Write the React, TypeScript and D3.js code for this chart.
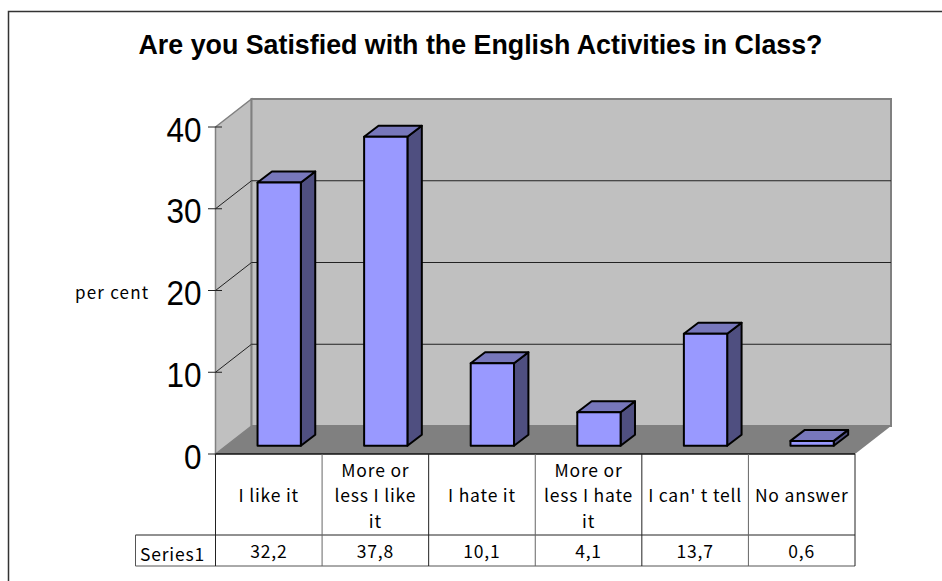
import React from "react";
import * as d3 from "d3";

const title = "Are you Satisfied with the English Activities in Class?";
const categories: string[][] = [
  ["I like it"],
  ["More or", "less I like", "it"],
  ["I hate it"],
  ["More or", "less I hate", "it"],
  ["I can' t tell"],
  ["No answer"],
];
const seriesName = "Series1";
const values = [32.2, 37.8, 10.1, 4.1, 13.7, 0.6];
const valueLabels = ["32,2", "37,8", "10,1", "4,1", "13,7", "0,6"];
const yTicks = [0, 10, 20, 30, 40];
const yTitle = "per cent";

const FONT = "'Noto Sans CJK JP','DejaVu Sans',sans-serif";
const SANS = "'Liberation Sans',Arial,sans-serif";

export default function App() {
  const left = 215.5, right = 855, y0 = 454, y40 = 127;
  const dx = 36, dy = 28;
  const rowA = 535, rowB = 566, seriesLeft = 135.5;
  const barDx = 10.4, barDy = 8.2, barW = 43.3, barDepthX = 14.4, barDepthY = 11;

  const y = d3.scaleLinear().domain([0, 40]).range([y0, y40]);
  const band = d3.scaleBand<number>().domain(d3.range(categories.length)).range([left, right]);
  const poly = (pts: [number, number][]) => pts.map(p => p.join(",")).join(" ");
  const tableText = { fontFamily: FONT, fontSize: 17.5, letterSpacing: 0.8, fill: "#000" };

  return (
    <svg width={942} height={581} style={{ position: "absolute", left: 0, top: 0, background: "#fff" }}>
      <path d="M8.5 581V11.5H942" fill="none" stroke="#333" strokeWidth={1.5} />
      <text x={480.5} y={54} textAnchor="middle" fontFamily={SANS} fontWeight={700} fontSize={26.8} fill="#000">{title}</text>

      {/* walls and floor */}
      <polygon points={poly([[left, y40], [left + dx, y40 - dy], [left + dx, y0 - dy], [left, y0]])} fill="#c0c0c0" stroke="#808080" strokeWidth={1.5} />
      <rect x={left + dx} y={y40 - dy} width={right - left} height={y0 - y40} fill="#c0c0c0" stroke="#808080" strokeWidth={2} />
      <polygon points={poly([[left, y0], [left + dx, y0 - dy], [right + dx, y0 - dy], [right, y0]])} fill="#808080" />

      {/* gridlines */}
      {yTicks.filter(t => t > 0 && t < 40).map(t => (
        <polyline key={t} points={poly([[left, y(t)], [left + dx, y(t) - dy], [right + dx, y(t) - dy]])} fill="none" stroke="#222" strokeWidth={1} />
      ))}

      {/* y axis */}
      {yTicks.map(t => (
        <g key={t}>
          <line x1={208} x2={t === 0 ? left : 222} y1={y(t)} y2={y(t)} stroke="#222" strokeWidth={1} />
          <text transform={`translate(201.5,${y(t) + 14.5}) scale(0.9,1)`} textAnchor="end" fontFamily={SANS} fontSize={35} fill="#000">{t}</text>
        </g>
      ))}
      <text x={75} y={299} fontFamily={FONT} fontSize={17} letterSpacing={1.2} fill="#000">{yTitle}</text>

      {/* bars */}
      {values.map((v, i) => {
        const x0 = band(i)! + band.bandwidth() / 2 - barW / 2 + barDx;
        const x1 = x0 + barW;
        const b = y0 - barDy;
        const t = b - (y0 - y(v));
        return (
          <g key={i} stroke="#000" strokeWidth={2} strokeLinejoin="round">
            <polygon points={poly([[x1, b], [x1 + barDepthX, b - barDepthY], [x1 + barDepthX, t - barDepthY], [x1, t]])} fill="#4f4f80" />
            <polygon points={poly([[x0, t], [x0 + barDepthX, t - barDepthY], [x1 + barDepthX, t - barDepthY], [x1, t]])} fill="#7777bb" />
            <rect x={x0} y={t} width={barW} height={b - t} fill="#9999ff" />
          </g>
        );
      })}

      {/* data table */}
      <g stroke="#222" strokeWidth={1} fill="none">
        <line x1={left} x2={right} y1={y0} y2={y0} strokeWidth={1.5} stroke="#111" />
        <line x1={seriesLeft} x2={right} y1={rowA} y2={rowA} />
        <line x1={seriesLeft} x2={right} y1={rowB} y2={rowB} stroke="#555" />
        <line x1={seriesLeft} x2={seriesLeft} y1={rowA} y2={rowB} stroke="#555" />
        {d3.range(categories.length + 1).map(i => {
          const x = i === categories.length ? right : band(i)!;
          return <line key={i} x1={x} x2={x} y1={y0} y2={rowB} stroke={i % 2 === 1 ? "#666" : "#222"} />;
        })}
      </g>
      {categories.map((lines, i) => {
        const cx = band(i)! + band.bandwidth() / 2;
        const lh = 25.2;
        const mid = 502.3;
        return (
          <g key={i}>
            {lines.map((l, k) => (
              <text key={k} x={cx} y={mid + (k - (lines.length - 1) / 2) * lh} textAnchor="middle" {...tableText}>{l}</text>
            ))}
            <text x={cx} y={558} textAnchor="middle" {...tableText}>{valueLabels[i]}</text>
          </g>
        );
      })}
      <text x={140} y={561} {...tableText}>{seriesName}</text>
    </svg>
  );
}
